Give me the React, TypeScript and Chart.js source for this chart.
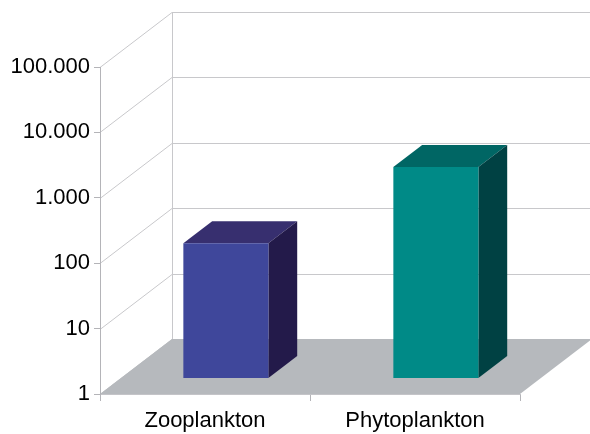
import React, { useEffect, useRef } from "react";
import { Chart, registerables } from "chart.js";

Chart.register(...registerables);

const categories = ["Zooplankton", "Phytoplankton"];
const values = [115, 1680];
const tickValues = [1, 10, 100, 1000, 10000, 100000];
const tickLabels = ["1", "10", "100", "1.000", "10.000", "100.000"];
const frontColors = ["#3F479B", "#008A87"];
const topColors = ["#372F6F", "#006664"];
const sideColors = ["#231A4A", "#004143"];

const DX = 72;
const DY = -55;
const BAR_FRONT = 0.29;
const BAR_BACK = 0.69;
const GRID = "#C8C8CB";
const AXIS = "#B4B4B8";
const FLOOR = "#B6B9BD";
const FONT = "'Liberation Sans', Arial, sans-serif";

const threeD = {
  id: "threeD",
  beforeDraw(chart: any) {
    const { ctx, chartArea: a, scales } = chart;
    const y = scales.y;
    ctx.save();
    ctx.strokeStyle = GRID;
    ctx.lineWidth = 1;
    for (const v of tickValues) {
      const py = Math.round(y.getPixelForValue(v)) + 0.5;
      ctx.beginPath();
      ctx.moveTo(a.left + DX, py + DY);
      ctx.lineTo(a.right + DX, py + DY);
      ctx.stroke();
      ctx.beginPath();
      ctx.moveTo(a.left, py);
      ctx.lineTo(a.left + DX, py + DY);
      ctx.stroke();
    }
    ctx.beginPath();
    ctx.moveTo(a.left + DX + 0.5, a.top + DY);
    ctx.lineTo(a.left + DX + 0.5, a.bottom + DY);
    ctx.stroke();
    // floor
    ctx.fillStyle = FLOOR;
    ctx.beginPath();
    ctx.moveTo(a.left, a.bottom);
    ctx.lineTo(a.right, a.bottom);
    ctx.lineTo(a.right + DX, a.bottom + DY);
    ctx.lineTo(a.left + DX, a.bottom + DY);
    ctx.closePath();
    ctx.fill();
    ctx.restore();
  },
  beforeDatasetsDraw(chart: any) {
    const { ctx } = chart;
    const meta = chart.getDatasetMeta(0);
    const fx = DX * BAR_FRONT, fy = DY * BAR_FRONT;
    const bx = DX * BAR_BACK, by = DY * BAR_BACK;
    meta.data.forEach((el: any, i: number) => {
      const { x, y, base, width } = el.getProps(["x", "y", "base", "width"], true);
      const l = x - width / 2, r = x + width / 2;
      ctx.save();
      ctx.fillStyle = topColors[i];
      ctx.beginPath();
      ctx.moveTo(l + fx, y + fy);
      ctx.lineTo(r + fx, y + fy);
      ctx.lineTo(r + bx, y + by);
      ctx.lineTo(l + bx, y + by);
      ctx.closePath();
      ctx.fill();
      ctx.fillStyle = sideColors[i];
      ctx.beginPath();
      ctx.moveTo(r + fx, y + fy);
      ctx.lineTo(r + bx, y + by);
      ctx.lineTo(r + bx, base + by);
      ctx.lineTo(r + fx, base + fy);
      ctx.closePath();
      ctx.fill();
      ctx.restore();
    });
    ctx.save();
    ctx.translate(fx, fy);
  },
  afterDatasetsDraw(chart: any) {
    chart.ctx.restore();
  },
};

export default function App() {
  const ref = useRef<HTMLCanvasElement>(null);
  useEffect(() => {
    if (!ref.current) return;
    const chart = new Chart(ref.current, {
      type: "bar",
      data: {
        labels: categories,
        datasets: [
          {
            data: values,
            backgroundColor: frontColors,
            borderWidth: 0,
            categoryPercentage: 1,
            barPercentage: 0.405,
          },
        ],
      },
      options: {
        responsive: false,
        animation: false,
        layout: { padding: { left: 0, top: 67, right: 70, bottom: 0 } },
        plugins: { legend: { display: false }, tooltip: { enabled: false } },
        scales: {
          x: {
            type: "category",
            offset: true,
            afterFit: (s: any) => {
              s.height = 40;
            },
            grid: {
              offset: true,
              drawOnChartArea: false,
              drawTicks: true,
              tickLength: 7,
              color: AXIS,
            },
            border: { display: true, color: "#C4C4C8" },
            ticks: {
              padding: 7,
              color: "#000",
              font: { family: FONT, size: 22 },
            },
          },
          y: {
            type: "logarithmic",
            min: 1,
            max: 100000,
            afterFit: (s: any) => {
              s.width = 100;
            },
            afterBuildTicks: (s: any) => {
              s.ticks = tickValues.map((v) => ({ value: v }));
            },
            grid: {
              drawOnChartArea: false,
              drawTicks: true,
              tickLength: 6,
              color: AXIS,
            },
            border: { display: true, color: AXIS },
            ticks: {
              padding: 4,
              color: "#000",
              font: { family: FONT, size: 22 },
              callback: (_v: any, i: number) => tickLabels[i],
            },
          },
        },
      },
      plugins: [threeD],
    });
    return () => chart.destroy();
  }, []);
  return (
    <div style={{ position: "fixed", left: 0, top: 0, width: 590, height: 434 }}>
      <canvas ref={ref} width={590} height={434} />
    </div>
  );
}
